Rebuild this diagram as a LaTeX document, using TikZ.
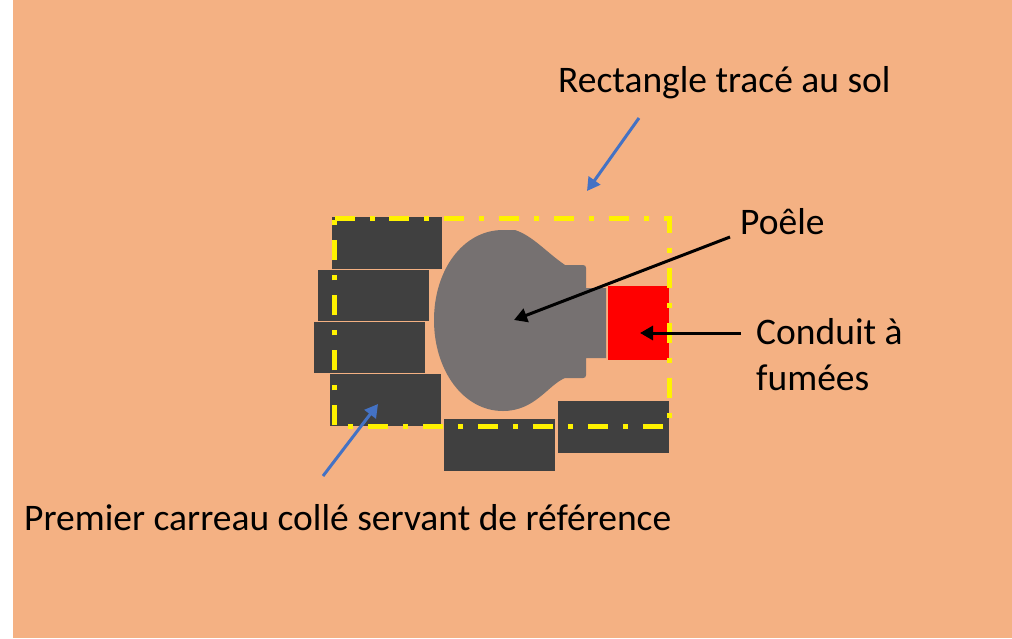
\documentclass[tikz,border=0pt]{standalone}
\usepackage{fontspec}
\setmainfont{Carlito}
\usetikzlibrary{arrows.meta}
\definecolor{bgc}{HTML}{F4B183}
\definecolor{tilec}{HTML}{404040}
\definecolor{stovec}{HTML}{767171}
\definecolor{bluec}{HTML}{4472C4}
\tikzset{
  x=1pt,y=-1pt,
  tile/.style={fill=tilec,draw=none},
  lbl/.style={font=\fontsize{37.5}{44}\selectfont,anchor=base west,inner sep=0pt,align=left,text=black},
  bluearrow/.style={draw=bluec,line width=3pt,-{Triangle[length=13pt,width=14pt]}},
  blackarrow/.style={draw=black,line width=3pt,-{Triangle[length=13pt,width=14pt]}},
  marking/.style={draw=yellow,line width=5.4pt,miter limit=10,dash pattern=on 20pt off 15pt on 5pt off 14.95pt},
}
\begin{document}
\begin{tikzpicture}
\useasboundingbox (0,0) rectangle (1012,638);
\fill[white] (0,0) rectangle (1012,638);
\fill[bgc] (13,0) rectangle (1012,638);
% tiles
\fill[tile] (332,217) rectangle (442,268.8);
\fill[tile] (318,270) rectangle (429,321);
\fill[tile] (314,322) rectangle (425,373);
\fill[tile] (330,374) rectangle (441,426);
\fill[tile] (444,419) rectangle (555,471);
\fill[tile] (558,401) rectangle (669,453);
% stove
\fill[stovec] (515,230) .. controls (533,236) and (546,252) .. (565,265)
  -- (583,265) .. controls (585,265) and (586,266) .. (586,268)
  -- (586,288) -- (606,288) -- (606,358) -- (586,358) -- (586,375)
  .. controls (586,377) and (585,378) .. (583,378)
  -- (565,378) .. controls (548,385) and (535,411) .. (503,411)
  .. controls (463,411) and (434,370) .. (434,320)
  .. controls (434,270) and (463,230) .. (503,230) -- cycle;
% flue
\fill[red] (608,286) rectangle (669,360);
% ground rectangle
\draw[marking] (334.5,218.5) -- (669.5,218.5) -- (669.5,426.5) -- (334.5,426.5) -- cycle;
% labels
\node[lbl] (rect) at (558,92) {Rectangle tracé au sol};
\node[lbl] (poele) at (740,234) {Poêle};
\node[lbl] (conduit) at (756,344) {Conduit à};
\node[lbl] (fumees) at (756,390) {fumées};
\node[lbl] (premier) at (24,530) {Premier carreau collé servant de référence};
% connector ends
\coordinate (a1) at (639,118); \coordinate (a2) at (587,191);
\coordinate (b1) at (323,476); \coordinate (b2) at (378,404);
\coordinate (c1) at (730,237); \coordinate (c2) at (514,320);
\coordinate (d1) at (741,333); \coordinate (d2) at (640,333);
\draw[bluearrow] (a1) -- (a2);
\draw[bluearrow] (b1) -- (b2);
\draw[blackarrow] (c1) -- (c2);
\draw[blackarrow] (d1) -- (d2);
\end{tikzpicture}
\end{document}
